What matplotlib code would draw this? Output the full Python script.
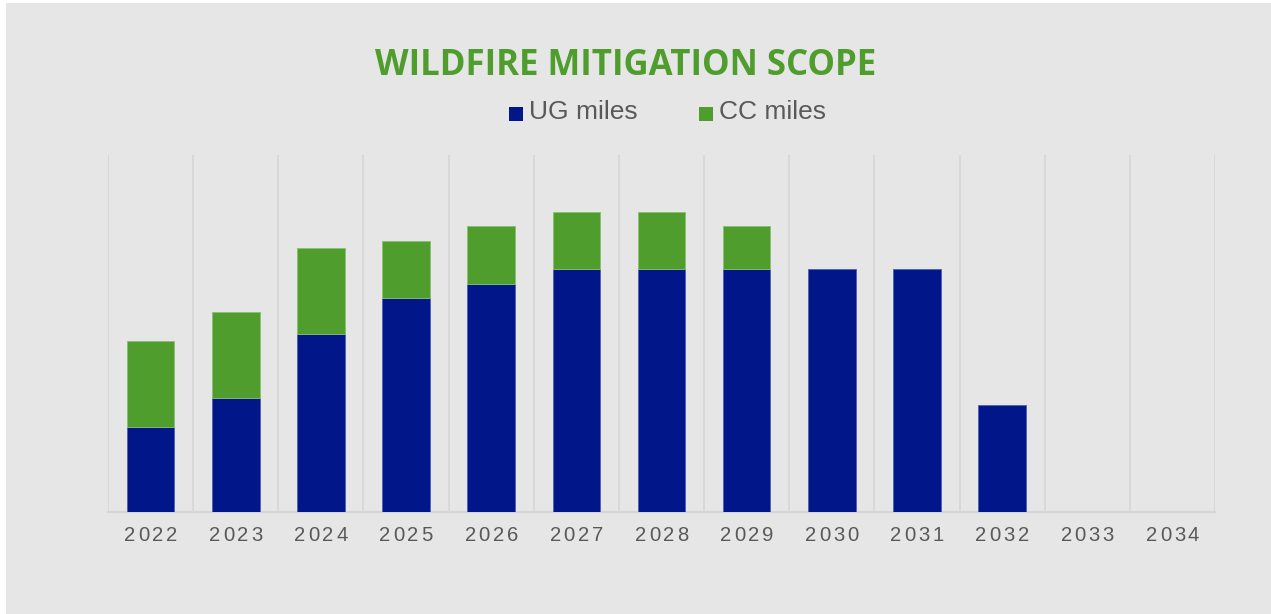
import matplotlib.pyplot as plt
import matplotlib.patches as patches
import numpy as np

# data (miles)
years = ['2022', '2023', '2024', '2025', '2026', '2027', '2028',
         '2029', '2030', '2031', '2032', '2033', '2034']
ug_miles = [300, 400, 625, 750, 800, 850, 850, 850, 850, 850, 375, 0, 0]
cc_miles = [300, 300, 300, 200, 200, 200, 200, 150, 0, 0, 0, 0, 0]

BLUE = '#001689'
GREEN = '#4e9d2d'
BG = '#e6e6e6'
GRID = '#d5d5d5'
TXT = '#595959'

W, H = 1271, 614
fig = plt.figure(figsize=(W / 100, H / 100), dpi=100)
fig.patch.set_facecolor('white')
# grey panel, thin white frame on left/top
fig.add_artist(patches.Rectangle((6 / W, 0), 1 - 6 / W, 1 - 3 / H,
                                 transform=fig.transFigure, facecolor=BG,
                                 edgecolor='none', zorder=0))

ax = fig.add_axes([108 / W, (H - 512.3) / H, (1215 - 108) / W, (512.3 - 155) / H])
ax.set_facecolor('none')

x = np.arange(len(years))
ug = np.array(ug_miles)
cc = np.array(cc_miles)

ax.bar(x, ug, width=0.56, color=BLUE, edgecolor='#4f5fb5', linewidth=0.6, zorder=3)
ax.bar(x, np.where(cc > 0, cc, np.nan), width=0.56, bottom=ug, color=GREEN,
       edgecolor='#88bf70', linewidth=0.6, zorder=3)

ax.set_xlim(-0.5, len(years) - 0.5)
ax.set_ylim(0, 1250)

# vertical separators between categories
ax.vlines(np.arange(len(years) + 1) - 0.5, 0, 1250, color=GRID, linewidth=1.1, zorder=1)

for s in ['top', 'right', 'left']:
    ax.spines[s].set_visible(False)
ax.spines['bottom'].set_color(GRID)
ax.spines['bottom'].set_linewidth(1.6)
ax.set_yticks([])
ax.set_xticks([])

# year labels with letter spacing
pitch = 10.1  # points between digit centres
for i, yr in enumerate(years):
    n = len(yr)
    for j, ch in enumerate(yr):
        ax.annotate(ch, xy=(i, 0), xycoords=('data', 'axes fraction'),
                    xytext=((j - (n - 1) / 2) * pitch, -17), textcoords='offset points',
                    ha='center', va='center', fontsize=14.5 * 72 / 100 / 0.716 * 1.0,
                    family='Liberation Sans', color=TXT)

fig.text(626 / W, 1 - 66 / H, 'WILDFIRE MITIGATION SCOPE', ha='center', va='center',
         fontsize=25, fontweight='bold', family='Open Sans', color=GREEN)

# legend
for xs, col, lab in [(509, BLUE, 'UG miles'), (699, GREEN, 'CC miles')]:
    fig.add_artist(patches.Rectangle((xs / W, 1 - 121 / H), 14 / W, 14 / H,
                                     transform=fig.transFigure, facecolor=col,
                                     edgecolor='none'))
    fig.text((xs + 20) / W, 1 - 112 / H, lab, ha='left', va='center',
             fontsize=19, family='Liberation Sans', color=TXT)

plt.savefig('out.png', dpi=100, facecolor=fig.get_facecolor())
